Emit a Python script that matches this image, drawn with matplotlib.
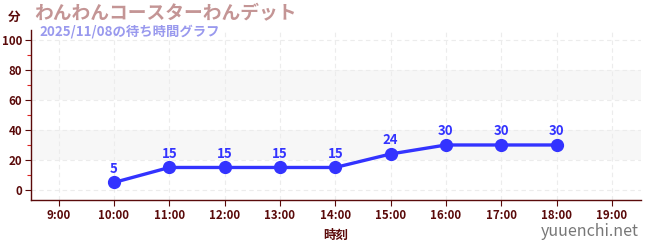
import matplotlib
matplotlib.use('Agg')
import matplotlib.pyplot as plt
from matplotlib.ticker import MultipleLocator

plt.rcParams['font.family'] = ['Noto Sans CJK JP', 'DejaVu Sans']

hours = [10, 11, 12, 13, 14, 15, 16, 17, 18]
waits = [5, 15, 15, 15, 15, 24, 30, 30, 30]
tick_hours = list(range(9, 20))
tick_labels = ['%d:00' % h for h in tick_hours]
y_ticks = [0, 20, 40, 60, 80, 100]

title = 'わんわんコースターわんデット'
subtitle = '2025/11/08の待ち時間グラフ'

dark = '#5a0a0a'
blue = '#3333ff'

fig = plt.figure(figsize=(6.5, 2.5), dpi=100)
ax = fig.add_axes([0.0477, 0.2, 0.938, 0.68])

# grey bands
for lo, hi in [(20, 40), (60, 80)]:
    ax.axhspan(lo, hi, color='#f7f7f7', zorder=0, lw=0)

ax.plot(hours, waits, color=blue, lw=2.4, marker='o', ms=8.5, zorder=3)
for h, w in zip(hours, waits):
    ax.annotate(str(w), (h, w), xytext=(0, 5), textcoords='offset points',
                ha='center', va='bottom', color=blue, fontsize=9.5, fontweight='bold')

ax.set_xlim(8.5, 19.52)
ax.set_ylim(-6.7, 106.7)
ax.set_xticks(tick_hours)
ax.set_xticklabels(tick_labels)
ax.set_yticks(y_ticks)
ax.yaxis.set_minor_locator(MultipleLocator(10))
ax.grid(True, which='major', color='#ececec', ls=(0, (4, 3)), lw=0.8)
ax.set_axisbelow(True)

for s in ['top', 'right']:
    ax.spines[s].set_visible(False)
for s in ['left', 'bottom']:
    ax.spines[s].set_color(dark)
    ax.spines[s].set_linewidth(1)

ax.tick_params(axis='both', which='major', colors=dark, labelsize=8.3, length=4, width=0.8, pad=2.5)
ax.tick_params(axis='y', which='minor', colors='#dd2222', length=3, width=0.8)
for lab in ax.get_xticklabels() + ax.get_yticklabels():
    lab.set_fontweight('bold')

ax.set_xlabel('時刻', color=dark, fontsize=9, fontweight='bold', labelpad=5)

fig.text(0.022, 0.93, '分', color=dark, fontsize=9, fontweight='bold', ha='center', va='center')
fig.text(0.053, 0.945, title, color='#c49595', fontsize=13.5, fontweight='bold', va='center')
fig.text(0.061, 0.872, subtitle, color='#9999ee', fontsize=9.6, fontweight='bold', va='center')
fig.text(0.982, 0.072, 'yuuenchi.net', color='#777777', fontsize=11.5, ha='right', va='center')

fig.savefig('out.png', dpi=100)
